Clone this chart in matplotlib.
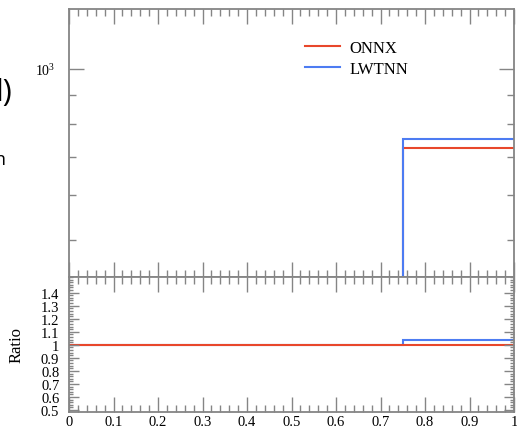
import numpy as np
import matplotlib
matplotlib.use("Agg")
import matplotlib.pyplot as plt
from matplotlib.ticker import MultipleLocator, FixedLocator, NullFormatter, FuncFormatter, LogLocator

# histogram contents
bin_edges = [0.0, 0.75, 1.0]
onnx = [0.0, 725.0]
lwtnn = [0.0, 752.0]
labels = ["ONNX", "LWTNN"]
colors = ["#e8472b", "#4d7cf2"]
ratio_ticks = [0.5, 0.6, 0.7, 0.8, 0.9, 1.0, 1.1, 1.2, 1.3, 1.4]
x_ticks = [0, 0.1, 0.2, 0.3, 0.4, 0.5, 0.6, 0.7, 0.8, 0.9, 1.0]

plt.rcParams['font.family'] = ['Liberation Serif', 'DejaVu Serif']

W, H = 517, 431
fig = plt.figure(figsize=(W / 100.0, H / 100.0), dpi=100)

def px(x0, y0, x1, y1):
    return [x0 / W, 1 - y1 / H, (x1 - x0) / W, (y1 - y0) / H]

ax = fig.add_axes(px(69, 10, 514, 278))
rax = fig.add_axes(px(69, 278, 514, 413), sharex=ax)

gray = "#858585"

def style(a):
    for s in a.spines.values():
        s.set_color(gray)
        s.set_linewidth(1.3)
    a.tick_params(which="both", direction="in", top=True, right=True,
                  color=gray, width=1.0, labelsize=10.5)
    a.tick_params(which="major", length=11)
    a.tick_params(which="minor", length=5)

# main panel
ax.set_yscale("log")
ax.stairs(onnx, bin_edges, baseline=None, color=colors[0], lw=1.5, label=labels[0])
ax.stairs(lwtnn, bin_edges, baseline=None, color=colors[1], lw=1.5, label=labels[1])
ax.set_xlim(0, 1)
ax.set_ylim(430, 1275)
ax.yaxis.set_major_locator(LogLocator(base=10, numticks=10))
ax.yaxis.set_minor_locator(LogLocator(base=10, subs=np.arange(2, 10), numticks=10))
ax.yaxis.set_minor_formatter(NullFormatter())
style(ax)
ax.tick_params(axis="y", labelsize=10, pad=10)
ax.tick_params(axis="x", labelbottom=False)
ax.xaxis.set_major_locator(FixedLocator(x_ticks))
ax.xaxis.set_minor_locator(MultipleLocator(0.02))

leg = ax.legend(loc="upper left", bbox_to_anchor=(0.53, 0.885), frameon=False,
                fontsize=12, handlelength=2.1, borderpad=0, borderaxespad=0,
                labelspacing=0.3, handletextpad=0.55)

# ratio panel
ref = np.array(onnx)
r_onnx = np.ones(len(onnx))
r_lwtnn = np.where(ref > 0, np.array(lwtnn) / np.where(ref > 0, ref, 1), 1.0)
rax.stairs(r_lwtnn, bin_edges, baseline=None, color=colors[1], lw=1.5)
rax.stairs(r_onnx, bin_edges, baseline=None, color=colors[0], lw=1.5)
rax.set_ylim(0.485, 1.52)
style(rax)
rax.yaxis.set_major_locator(FixedLocator(ratio_ticks))
rax.yaxis.set_minor_locator(MultipleLocator(0.02))
rax.yaxis.set_major_formatter(FuncFormatter(lambda v, p: "%g" % round(v, 2)))
rax.xaxis.set_major_formatter(FuncFormatter(lambda v, p: "%g" % round(v, 2)))
rax.tick_params(axis="y", which="major", length=7, pad=7)
rax.tick_params(axis="y", which="minor", length=3)
rax.tick_params(axis="x", pad=2.5)
rax.set_ylabel("Ratio", fontsize=12, labelpad=12)

# slide text cut off at the left edge
fig.text(-4.5 / W, 1 - 93 / H, "l)", fontsize=22, family="Open Sans", va="center", ha="left")
fig.text(-5 / W, 1 - 160 / H, "n", fontsize=13, family="Open Sans", va="center", ha="left")

fig.savefig("out.png", dpi=100)
